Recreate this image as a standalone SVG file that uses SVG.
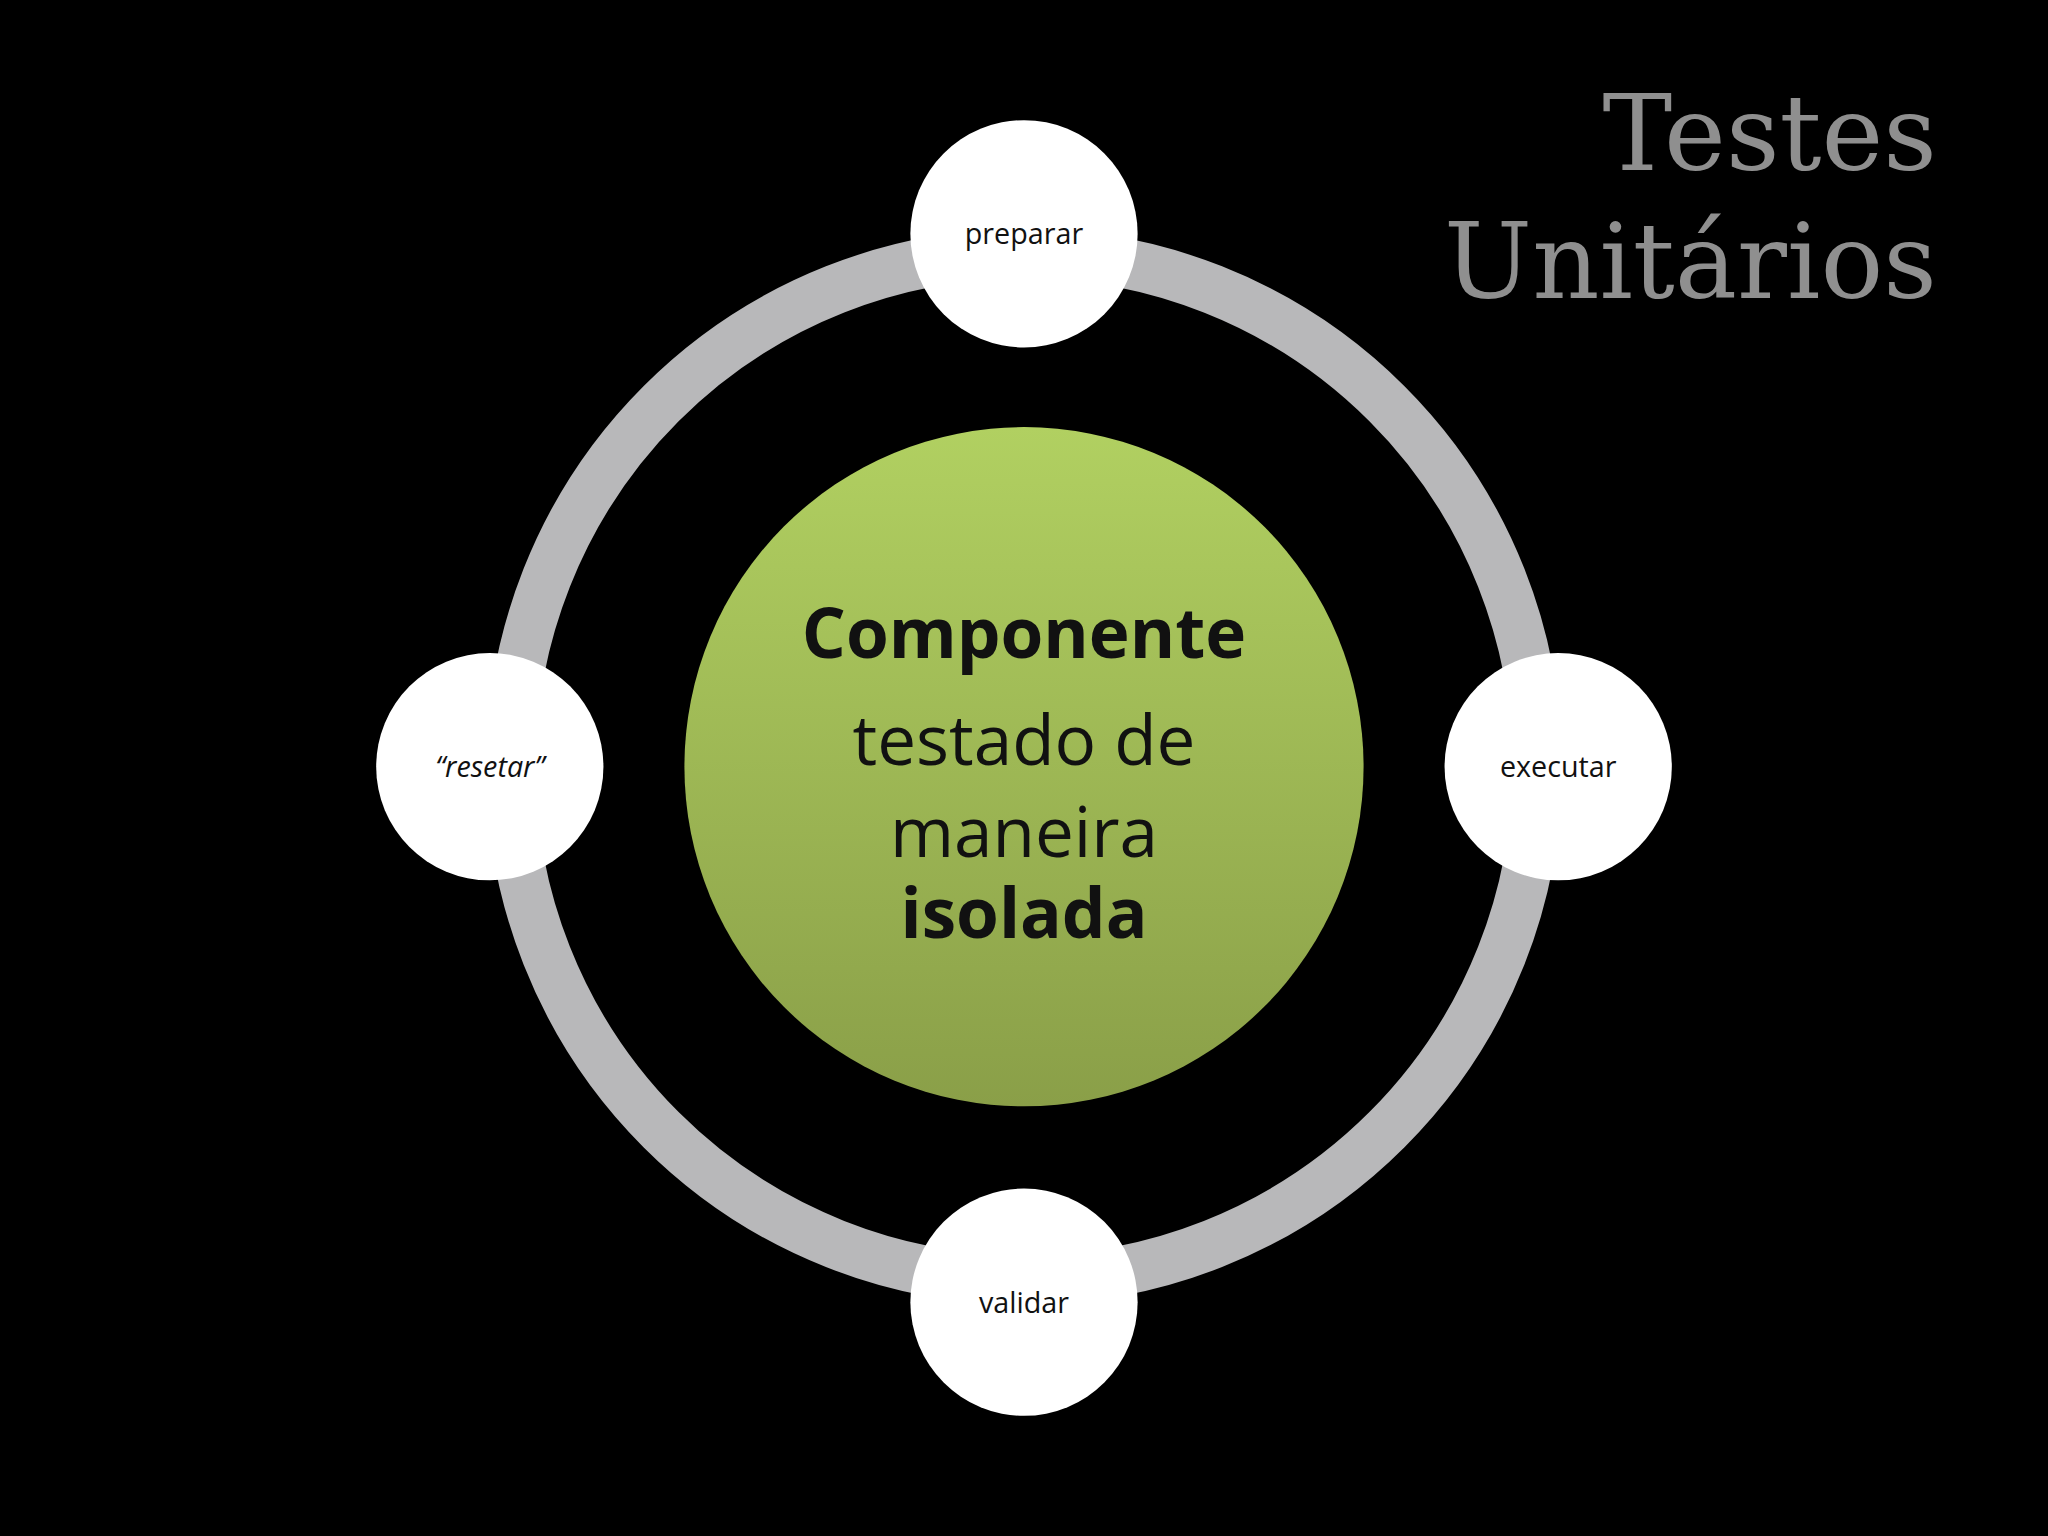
<svg xmlns="http://www.w3.org/2000/svg" width="2048" height="1536" viewBox="0 0 2048 1536">
<defs>
<linearGradient id="g" x1="0" y1="0" x2="0" y2="1"><stop offset="0" stop-color="#b1d061"/><stop offset="1" stop-color="#8a9f48"/></linearGradient>
<style>
.n{fill:#fff}
.l{font-family:"Open Sans",sans-serif;font-size:22px;fill:#111;text-anchor:middle}
.c{font-family:"Open Sans",sans-serif;font-size:53px;fill:#111;text-anchor:middle}
.t{font-family:"DejaVu Serif",serif;font-size:80px;fill:#8f8f8f;text-anchor:end}
</style>
</defs>
<rect width="2048" height="1536" fill="#000"/>
<g transform="scale(1.30612)">
<g id="connectors"><circle cx="784" cy="587" r="393" fill="none" stroke="#b8b8ba" stroke-width="38"/></g>
<g id="center"><circle cx="784" cy="587" r="260" fill="url(#g)"/>
<text class="c" x="784" y="504" font-weight="bold">Componente</text>
<text class="c" x="784" y="586">testado de</text>
<text class="c" x="784" y="656">maneira</text>
<text class="c" x="784" y="718" font-weight="bold">isolada</text></g>
<g id="preparar"><circle class="n" cx="784" cy="179" r="87"/><text class="l" x="784" y="187">preparar</text></g>
<g id="executar"><circle class="n" cx="1193" cy="587" r="87"/><text class="l" x="1193" y="595">executar</text></g>
<g id="validar"><circle class="n" cx="784" cy="997" r="87"/><text class="l" x="784" y="1005">validar</text></g>
<g id="resetar"><circle class="n" cx="375" cy="587" r="87"/><text class="l" x="375" y="595" font-style="italic">“resetar”</text></g>
<g id="title"><text class="t" x="1483" y="130">Testes</text><text class="t" x="1483" y="228">Unitários</text></g>
</g>
</svg>
